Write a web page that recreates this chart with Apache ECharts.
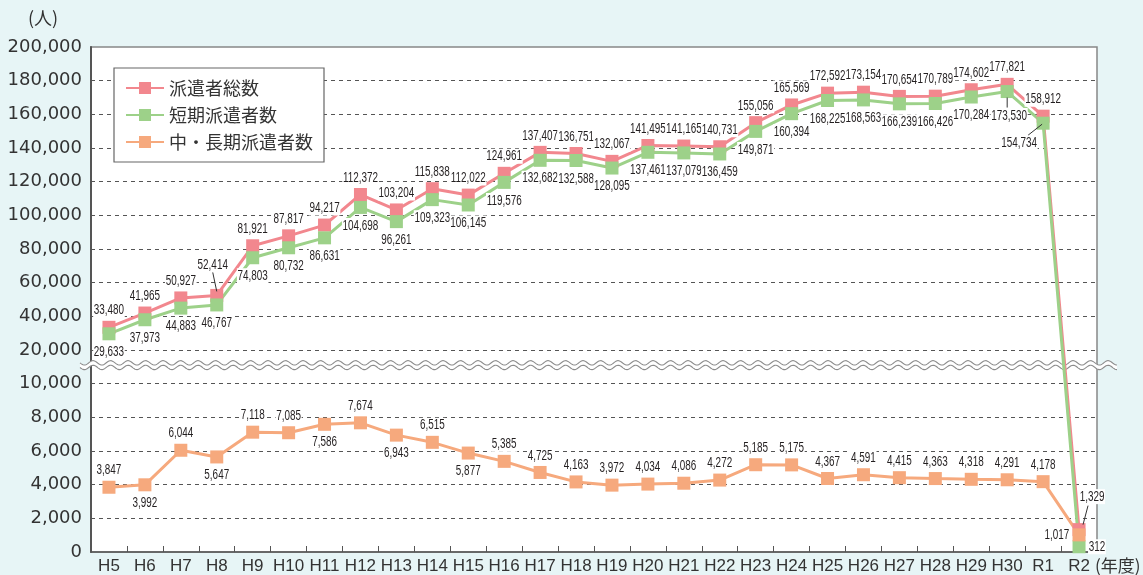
<!DOCTYPE html>
<html><head><meta charset="utf-8">
<script src="https://cdn.jsdelivr.net/npm/echarts@6/dist/echarts.min.js"></script>
<style>html,body{margin:0;padding:0;background:#e7f5f6;}#c{width:1143px;height:575px;}</style>
</head><body><div id="c"></div>
<script>
const categories = ['H5','H6','H7','H8','H9','H10','H11','H12','H13','H14','H15','H16','H17','H18','H19','H20','H21','H22','H23','H24','H25','H26','H27','H28','H29','H30','R1','R2'];
const totalDispatched = [33480,41965,50927,52414,81921,87817,94217,112372,103204,115838,112022,124961,137407,136751,132067,141495,141165,140731,155056,165569,172592,173154,170654,170789,174602,177821,158912,1329];
const shortTerm = [29633,37973,44883,46767,74803,80732,86631,104698,96261,109323,106145,119576,132682,132588,128095,137461,137079,136459,149871,160394,168225,168563,166239,166426,170284,173530,154734,312];
const midLongTerm = [3847,3992,6044,5647,7118,7085,7586,7674,6943,6515,5877,5385,4725,4163,3972,4034,4086,4272,5185,5175,4367,4591,4415,4363,4318,4291,4178,1017];
const yTicks = [0,2000,4000,6000,8000,10000,20000,40000,60000,80000,100000,120000,140000,160000,180000,200000];
const seriesNames = ['派遣者総数','短期派遣者数','中・長期派遣者数'];

const GRID = {left:91, right:46, top:47, bottom:22};
function toAxis(v){
  for (let i=0;i<yTicks.length-1;i++){
    if (v<=yTicks[i+1]) return i+(v-yTicks[i])/(yTicks[i+1]-yTicks[i]);
  }
  return yTicks.length-1;
}
function fmt(n){ return String(n).replace(/\B(?=(\d{3})+(?!\d))/g, ','); }

// label placement (style only, relative to each point)
const ABOVE = {dx:0, dy:-17, align:'center'}, BELOW = {dx:0, dy:18, align:'center'};
const labelPlacement = {
  total: {def:ABOVE, o:{3:{dx:-4,dy:-31,align:'center',line:[-4,-23,0,-4]}, 27:{dx:13,dy:-33,align:'center',line:[4,-5,9,-24]}}},
  short: {def:BELOW, o:{25:{dx:2,dy:24,align:'center',line:[0,6,0,16]}, 26:{dx:-24,dy:20,align:'center',line:[-15,12,-1,1]}, 27:{dx:9,dy:0,align:'left'}}},
  mid:   {def:ABOVE, o:{1:BELOW,3:BELOW,6:BELOW,8:BELOW,10:BELOW,27:{dx:-9,dy:0,align:'right'}}}
};

function lineSeries(name, values, color){
  return {
    name, type:'line', data: values.map(v=>toAxis(v)),
    symbol:'rect', symbolSize:13,
    lineStyle:{color, width:3}, itemStyle:{color},
    label:{show:false}, emphasis:{disabled:true}, z:2
  };
}
function labelSeries(values, place){
  return {
    type:'custom', coordinateSystem:'cartesian2d', z:5, silent:true, clip:false,
    encode:{x:0, y:1},
    data: values.map((v,i)=>[i, toAxis(v)]),
    renderItem:(params, api)=>{
      const i = params.dataIndex;
      const p = api.coord([api.value(0), api.value(1)]);
      const s = place.o[i] || place.def;
      const children = [];
      if (s.line){
        children.push({type:'line', shape:{x1:p[0]+s.line[0], y1:p[1]+s.line[1], x2:p[0]+s.line[2], y2:p[1]+s.line[3]}, style:{stroke:'#333', lineWidth:1}});
      }
      children.push({type:'text', x:p[0]+s.dx, y:p[1]+s.dy, scaleX:0.66,
        style:{text:fmt(values[i]), align:s.align, verticalAlign:'middle', fontFamily:'"Liberation Sans",Arial,sans-serif', fontSize:15, fill:'#231f20', backgroundColor:'#fff', padding:[0,1]}});
      return {type:'group', children};
    }
  };
}

const chart = echarts.init(document.getElementById('c'));
chart.setOption({
  animation:false,
  backgroundColor:'#e7f5f6',
  grid:{left:GRID.left, right:GRID.right, top:GRID.top, bottom:GRID.bottom, show:true, backgroundColor:'#fff', borderColor:'#888', borderWidth:1.5, containLabel:false},
  legend:{
    left:114, top:68, orient:'vertical', padding:[11,11,11,11], itemGap:9,
    itemWidth:38, itemHeight:15, backgroundColor:'#fff', borderColor:'#666', borderWidth:1.2,
    textStyle:{fontFamily:'"Noto Sans CJK JP",sans-serif', fontSize:18, color:'#333', lineHeight:18},
    data:seriesNames
  },
  xAxis:{
    type:'category', data:categories, boundaryGap:true,
    axisLine:{lineStyle:{color:'#555', width:1.5}},
    axisTick:{show:true, inside:true, length:6, interval:0, lineStyle:{color:'#555'}},
    axisLabel:{interval:0, margin:6, fontFamily:'"Liberation Sans",sans-serif', fontSize:17, color:'#333'},
    splitLine:{show:false}
  },
  yAxis:{
    type:'value', min:0, max:yTicks.length-1, interval:1,
    axisLine:{show:true, lineStyle:{color:'#555', width:2}},
    axisTick:{show:false},
    axisLabel:{margin:9, fontFamily:'"DejaVu Sans",sans-serif', fontSize:18, color:'#333', formatter:v=>fmt(yTicks[Math.round(v)])},
    splitLine:{show:true, showMinLine:false, showMaxLine:false, lineStyle:{color:'#555', type:[4,4], width:1}}
  },
  series:[
    lineSeries(seriesNames[0], totalDispatched, '#f2878e'),
    lineSeries(seriesNames[1], shortTerm, '#9dd189'),
    lineSeries(seriesNames[2], midLongTerm, '#f6a97d'),
    labelSeries(totalDispatched, labelPlacement.total),
    labelSeries(shortTerm, labelPlacement.short),
    labelSeries(midLongTerm, labelPlacement.mid)
  ]
});

// axis-break wave
const yMid = chart.convertToPixel({yAxisIndex:0}, 5.55);
const x0 = GRID.left - 11, x1 = 1143 - GRID.right + 20;
const P = 17.5, A = 2.2, sep = 2.3;
const topPts = [], botPts = [];
for (let x=x0; x<=x1; x+=1){
  const w = A*Math.sin(2*Math.PI*(x-x0)/P);
  topPts.push([x, yMid - sep + w]);
  botPts.push([x, yMid + sep + w]);
}
const poly = topPts.concat(botPts.slice().reverse());
chart.setOption({graphic:[
  {type:'polygon', shape:{points:poly}, style:{fill:'#fff'}, z:1, silent:true},
  {type:'polyline', shape:{points:topPts}, style:{stroke:'#8c8c8c', lineWidth:1.1, fill:null}, z:1, silent:true},
  {type:'polyline', shape:{points:botPts}, style:{stroke:'#8c8c8c', lineWidth:1.1, fill:null}, z:1, silent:true},
  {type:'text', z:10, style:{text:'(人)', x:43, y:18, align:'center', verticalAlign:'middle', fontFamily:'"Noto Sans CJK JP",sans-serif', fontSize:18, fill:'#333'}},
  {type:'text', z:10, style:{text:'(年度)', x:1095, y:566, align:'left', verticalAlign:'middle', fontFamily:'"Noto Sans CJK JP",sans-serif', fontSize:17, fill:'#333'}}
]});
</script></body></html>
